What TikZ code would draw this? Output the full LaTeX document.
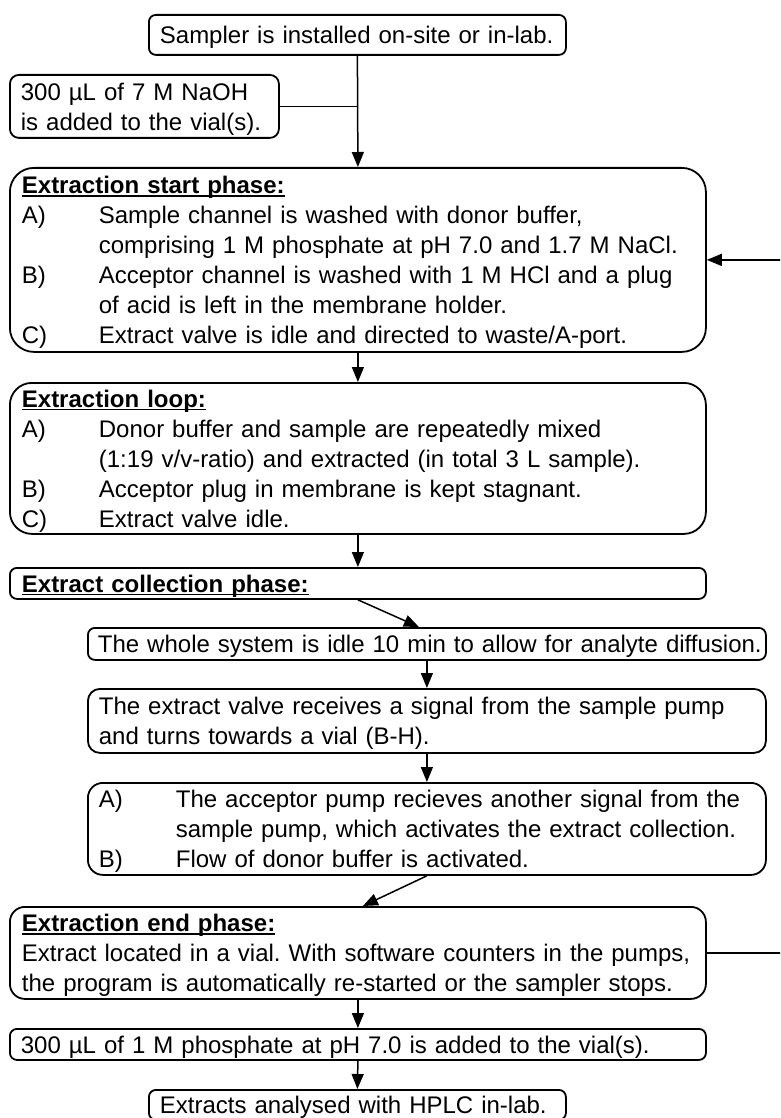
\documentclass[tikz,border=0pt]{standalone}
\usepackage{fontspec}
\setmainfont{Liberation Sans}
\usetikzlibrary{arrows.meta,calc}
\frenchspacing
\newcommand\fs{\fontsize{24pt}{30pt}\selectfont\frenchspacing}
\newcommand\mystrut{\rule[-6pt]{0pt}{30pt}}
\newcommand\tabw{77pt}
\newcommand\lin[1]{\mbox{\mystrut#1}}
\newcommand\itm[2]{\mbox{\mystrut\makebox[\tabw][l]{#1}#2}}
\newcommand\cnt[1]{\mbox{\mystrut\hspace*{\tabw}#1}}
\newcommand\ulx[1]{\setbox0\hbox{#1}\rlap{\rule[-3pt]{\wd0}{1.5pt}}\box0}
\newcommand\hd[1]{\mbox{\mystrut\bfseries\ulx{#1}}}
\tikzset{
  box/.style={draw, line width=1.8pt, rounded corners=8pt, inner xsep=12pt,
    inner ysep=0pt, anchor=north west, align=left, font=\fs, text=black},
  arr/.style={line width=1.5pt, -{Triangle[length=15pt,width=12pt]}},
  ln/.style={line width=1.5pt}
}
\begin{document}
\begin{tikzpicture}[x=1pt,y=-1pt]
\useasboundingbox (0,0) rectangle (780,1118);
\clip (0,0) rectangle (780,1118);
\node[box, inner xsep=11pt, rounded corners=7pt, text width=395pt, minimum height=40pt] (sampler) at (148,14)
  {\lin{Sampler is installed on-site or in-lab.}};
\node[box, inner xsep=11pt, rounded corners=9pt, text width=247pt, minimum height=63pt] (naoh) at (9,74)
  {\lin{300 µL of 7 M NaOH}\\\lin{is added to the vial(s).}};
\node[box, rounded corners=24pt, text width=672pt, minimum height=184pt] (start) at (9,167)
  {\hd{Extraction start phase:}\\
   \itm{A)}{Sample channel is washed with donor buffer,}\\
   \cnt{comprising 1 M phosphate at pH 7.0 and 1.7 M NaCl.}\\
   \itm{B)}{Acceptor channel is washed with 1 M HCl and a plug}\\
   \cnt{of acid is left in the membrane holder.}\\
   \itm{C)}{Extract valve is idle and directed to waste/A-port.}};
\node[box, rounded corners=22pt, text width=672pt, minimum height=151pt] (loop) at (9,382)
  {\hd{Extraction loop:}\\
   \itm{A)}{Donor buffer and sample are repeatedly mixed}\\
   \cnt{(1:19 v/v-ratio) and extracted (in total 3 L sample).}\\
   \itm{B)}{Acceptor plug in membrane is kept stagnant.}\\
   \itm{C)}{Extract valve idle.}};
\node[box, rounded corners=7pt, text width=672pt, minimum height=31pt] (collect) at (9,567)
  {\hd{Extract collection phase:}};
\node[box, inner xsep=10pt, rounded corners=7pt, text width=658pt, minimum height=32pt] (whole) at (87,627)
  {\lin{The whole system is idle 10 min to allow for analyte diffusion.}};
\node[box, inner xsep=11pt, rounded corners=12pt, text width=656pt, minimum height=64pt] (valve) at (87,688)
  {\lin{The extract valve receives a signal from the sample pump}\\
   \lin{and turns towards a vial (B-H).}};
\node[box, inner xsep=11pt, rounded corners=15pt, text width=656pt, minimum height=92pt] (accept) at (87,782)
  {\itm{A)}{The acceptor pump recieves another signal from the}\\
   \cnt{sample pump, which activates the extract collection.}\\
   \itm{B)}{Flow of donor buffer is activated.}};
\node[box, rounded corners=15pt, text width=672pt, minimum height=92pt] (endp) at (9,906)
  {\hd{Extraction end phase:}\\
   \lin{Extract located in a vial. With software counters in the pumps,}\\
   \lin{the program is automatically re-started or the sampler stops.}};
\node[box, inner xsep=11pt, rounded corners=7pt, text width=674pt, minimum height=31pt] (phos) at (9,1028)
  {\lin{300 µL of 1 M phosphate at pH 7.0 is added to the vial(s).}};
\node[box, inner xsep=11pt, rounded corners=7pt, text width=395pt, minimum height=30pt] (hplc) at (148,1089)
  {\lin{Extracts analysed with HPLC in-lab.}};
% connectors
\coordinate (join) at (naoh.east -| sampler.south);
\draw[arr] (sampler.south) -- (start.north);
\draw[ln] (naoh.east) -- (join);
\draw[arr] (start.south) -- (loop.north);
\draw[arr] (loop.south) -- (collect.north);
\draw[arr] (collect.south) -- ([xshift=-8pt]whole.north);
\draw[arr] (whole.south) -- (valve.north);
\draw[arr] (valve.south) -- (accept.north);
\draw[arr] (accept.south) -- ([xshift=5pt]endp.north);
\draw[arr] (endp.south) -- (phos.north);
\draw[arr] (phos.south) -- (hplc.north);
\coordinate (back) at ([xshift=100pt]endp.east);
\draw[arr] (endp.east) -- (back) |- (start.east);
\end{tikzpicture}
\end{document}
